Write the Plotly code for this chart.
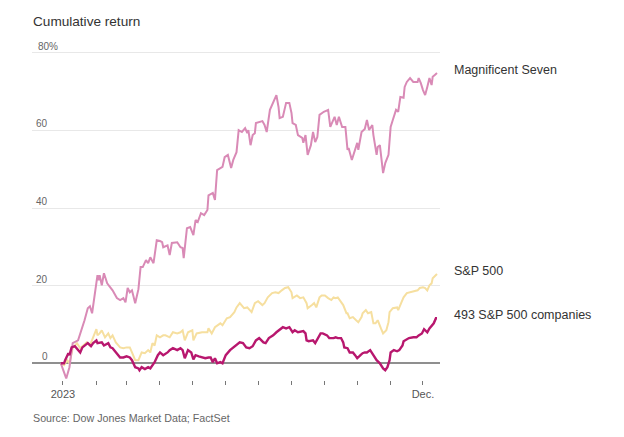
import pandas as pd
import plotly.graph_objects as go

# Day offsets from 2023-01-01 and cumulative return (%)
mag7_day = [-2, 3, 6, 9, 14, 18, 20, 23, 25, 27, 29, 32, 33, 34, 36, 38, 41, 44, 46, 50, 53, 56, 58, 60, 62, 64, 67, 70,
            72, 74, 77, 79, 81, 84, 87, 90, 92, 93, 97, 99, 101, 106, 109, 111, 112, 115, 118, 121, 123, 125, 128, 131,
            134, 135, 139, 141, 143, 148, 150, 153, 156, 158, 161, 163, 166, 169, 171, 172, 174, 176, 178, 179, 183,
            185, 187, 189, 192, 195, 198, 200, 201, 204, 205, 207, 210, 212, 213, 216, 218, 222, 223, 225, 227, 230,
            232, 234, 236, 238, 242, 246, 248, 251, 252, 254, 256, 259, 262, 264, 265, 268, 270, 273, 274, 277, 280,
            282, 284, 287, 288, 290, 291, 292, 294, 297, 299, 302, 304, 306, 309, 311, 313, 316, 317, 319, 322, 325,
            329, 330, 332, 334, 336, 338, 340, 342, 343, 345, 347]
mag7_ret = [0.0, -3.9, -1.0, 5.2, 5.9, 9.3, 11.1, 14.2, 14.7, 12.9, 17.0, 22.7, 21.4, 22.7, 20.1, 23.2, 20.6, 19.6, 18.8,
            16.8, 16.3, 16.8, 15.7, 19.4, 18.3, 18.8, 15.5, 19.1, 24.8, 24.8, 26.6, 25.8, 27.3, 25.8, 31.7, 31.5, 31.2,
            29.9, 30.4, 27.9, 31.0, 31.2, 29.9, 29.7, 27.1, 34.8, 35.1, 33.0, 36.9, 36.4, 38.7, 38.2, 39.5, 43.3, 43.9,
            42.1, 49.8, 50.6, 53.1, 53.7, 50.3, 52.4, 54.4, 60.1, 59.6, 60.6, 59.3, 60.1, 56.2, 58.8, 59.3, 61.9, 62.2,
            62.4, 61.4, 59.6, 65.3, 67.1, 69.1, 66.0, 63.2, 63.5, 64.5, 67.1, 67.1, 64.5, 61.9, 61.4, 58.8, 58.1, 56.8,
            58.8, 53.7, 56.2, 59.6, 57.0, 58.3, 64.0, 64.8, 65.3, 60.9, 63.2, 63.5, 61.4, 63.5, 60.9, 60.9, 55.0, 55.5,
            52.4, 54.2, 56.8, 55.0, 59.6, 60.4, 62.7, 60.1, 61.4, 58.8, 55.0, 53.7, 55.7, 56.2, 49.0, 51.6, 53.7, 60.9,
            62.7, 65.3, 64.8, 68.6, 68.4, 71.2, 72.5, 73.5, 72.5, 72.5, 73.5, 72.2, 70.4, 69.1, 71.2, 73.5, 71.7, 73.8,
            74.3, 74.8]

sp_day = [-2, 1, 4, 6, 9, 13, 16, 19, 22, 25, 28, 31, 32, 34, 36, 39, 42, 44, 46, 49, 53, 56, 59, 62, 64, 67, 70, 71,
          73, 76, 79, 81, 83, 85, 87, 90, 93, 95, 99, 102, 106, 109, 111, 113, 116, 120, 121, 124, 129, 134, 135, 138,
          141, 146, 148, 152, 155, 159, 161, 164, 168, 171, 175, 178, 181, 185, 187, 190, 194, 197, 200, 203, 206, 209,
          212, 213, 217, 220, 223, 226, 227, 231, 233, 235, 238, 240, 243, 246, 249, 251, 253, 255, 258, 260, 263,
          264, 266, 269, 272, 274, 277, 278, 281, 283, 286, 288, 290, 292, 295, 297, 300, 302, 303, 306, 310, 311,
          314, 316, 319, 322, 326, 329, 331, 334, 336, 338, 340, 342, 343, 346, 347]
sp_ret = [0.0, -0.5, 0.8, 0.0, 3.9, 5.2, 3.9, 4.6, 5.4, 4.6, 6.7, 8.8, 7.2, 7.7, 8.5, 6.7, 7.7, 6.5, 7.2, 5.4, 4.1, 3.9,
          4.1, 4.1, 2.8, 0.8, 0.8, 1.5, 2.8, 2.6, 3.4, 2.8, 5.2, 4.6, 7.2, 6.7, 7.2, 7.2, 6.7, 8.0, 7.7, 8.0, 8.5, 5.9,
          8.0, 8.5, 5.9, 7.7, 8.0, 8.0, 9.0, 7.7, 9.3, 10.3, 9.8, 11.6, 11.9, 13.2, 14.4, 15.5, 14.2, 14.4, 13.2, 15.5,
          16.0, 15.0, 15.5, 17.0, 18.1, 18.3, 18.1, 18.8, 19.4, 19.6, 18.3, 16.8, 17.5, 16.8, 17.0, 15.5, 14.2, 15.0,
          15.5, 14.4, 17.0, 17.5, 17.5, 16.8, 16.3, 17.0, 16.8, 17.0, 15.7, 15.0, 12.9, 12.9, 11.6, 11.9, 11.1, 10.6,
          11.9, 12.9, 13.7, 12.9, 13.2, 10.3, 10.3, 11.1, 9.0, 7.7, 8.5, 10.6, 13.2, 14.2, 14.4, 13.7, 15.7, 17.0,
          18.1, 18.3, 18.6, 18.8, 19.4, 19.6, 19.4, 18.8, 20.1, 20.6, 21.9, 22.7, 23.0]

r493_day = [-2, 1, 2, 5, 6, 8, 11, 14, 16, 18, 20, 23, 26, 28, 31, 32, 36, 38, 42, 44, 46, 50, 53, 56, 59, 62, 64, 67,
            70, 71, 73, 76, 79, 81, 83, 85, 88, 90, 93, 97, 99, 102, 106, 109, 111, 113, 116, 119, 121, 123, 126, 129,
            132, 135, 137, 139, 141, 143, 146, 148, 151, 155, 158, 161, 164, 167, 170, 173, 176, 179, 182, 186, 188,
            191, 195, 198, 200, 204, 207, 210, 213, 215, 218, 223, 225, 226, 228, 232, 234, 237, 239, 241, 245, 247,
            251, 253, 255, 258, 260, 261, 264, 266, 269, 271, 273, 276, 278, 280, 282, 285, 288, 290, 291, 294, 297,
            299, 301, 303, 304, 307, 310, 312, 315, 316, 319, 321, 325, 328, 330, 333, 335, 338, 340, 342, 344, 346,
            347]
r493_ret = [0.0, 0.0, 0.8, 2.6, 2.1, 4.1, 4.4, 3.4, 2.8, 4.1, 4.6, 5.2, 4.4, 5.2, 5.9, 5.2, 5.4, 4.6, 5.2, 4.1, 3.9, 2.6,
            1.5, 1.5, 1.8, 1.5, 0.8, -1.0, -1.3, -1.8, -1.0, -1.5, -1.0, -1.3, -0.5, 0.3, 2.1, 2.8, 2.1, 2.8, 3.4, 3.9,
            3.4, 3.9, 3.4, 1.3, 3.4, 2.8, 1.0, 2.1, 1.8, 1.5, 1.3, 1.5, 1.5, 0.3, 1.3, 0.0, 0.3, 0.0, 2.1, 3.4, 4.1,
            4.6, 5.4, 5.2, 4.1, 3.9, 4.4, 5.9, 6.5, 5.4, 5.2, 6.5, 7.2, 8.0, 8.5, 9.3, 9.0, 9.3, 8.0, 8.5, 8.0, 8.3,
            7.7, 5.9, 5.7, 5.9, 5.2, 6.5, 7.7, 7.7, 7.2, 6.5, 6.5, 6.7, 6.5, 6.5, 5.4, 4.1, 3.9, 2.8, 2.8, 2.1, 1.3,
            2.1, 2.6, 2.8, 2.8, 3.4, 2.1, 1.0, 0.8, 0.0, -1.3, -1.8, -1.0, 0.8, 2.8, 3.4, 3.1, 3.4, 4.6, 5.7, 6.2, 6.5,
            6.7, 6.7, 7.2, 7.7, 8.8, 8.0, 9.0, 9.8, 10.3, 11.6, 11.6]

y_ticks = [0, 20, 40, 60, 80]
y_tick_text = ["0", "20", "40", "60", "80%"]
month_ticks = pd.date_range("2023-01-01", "2023-12-01", freq="MS")
month_text = ["2023"] + [""] * 10 + ["Dec."]

series_names = ["Magnificent Seven", "S&P 500", "493 S&P 500 companies"]
series_colors = ["#d98ab6", "#f6df9f", "#b8176e"]
series_widths = [2, 2, 2.4]

FONT = "Liberation Sans, Arial, sans-serif"
base = pd.Timestamp("2023-01-01")


def to_dates(days):
    return base + pd.to_timedelta(days, unit="D")


fig = go.Figure()
data = [(sp_day, sp_ret), (mag7_day, mag7_ret), (r493_day, r493_ret)]
order = [1, 0, 2]
for idx, (d, r) in zip(order, data):
    fig.add_trace(go.Scatter(x=to_dates(d), y=r, mode="lines",
                             line=dict(color=series_colors[idx], width=series_widths[idx]),
                             name=series_names[idx], hoverinfo="skip"))

# the page body adds an 8px margin, so the figure is 8px smaller on each axis
fig.update_layout(
    width=616, height=429,
    margin=dict(l=24, r=184, t=32, b=57),
    paper_bgcolor="white", plot_bgcolor="white",
    showlegend=False,
    font=dict(family=FONT, color="#333"),
)
fig.update_xaxes(
    range=[pd.Timestamp("2022-12-03 06:00"), pd.Timestamp("2023-12-16 19:00")],
    tickvals=month_ticks, ticktext=month_text,
    ticks="outside", ticklen=4, tickcolor="#777", tickwidth=1,
    showgrid=False, zeroline=False, showline=False,
    tickfont=dict(size=11, color="#555"),
)
fig.update_yaxes(
    range=[-4.3, 83.3], tickvals=y_ticks, showticklabels=False,
    showgrid=True, gridcolor="#e8e8e8", gridwidth=1,
    zeroline=True, zerolinecolor="#8f8f8f", zerolinewidth=2,
    ticks="",
)

for v, t in zip(y_ticks, y_tick_text):
    if t.endswith("%"):
        fig.add_annotation(x=0, xref="paper", y=v, yref="y", text=t, showarrow=False,
                           xanchor="left", yanchor="bottom", xshift=4, yshift=-1,
                           font=dict(size=10, color="#666"))
    else:
        fig.add_annotation(x=0, xref="paper", y=v, yref="y", text=t, showarrow=False,
                           xanchor="right", yanchor="bottom", xshift=18, yshift=-1,
                           font=dict(size=10, color="#666"))

last_vals = [mag7_ret[-1], sp_ret[-1], r493_ret[-1]]
for name, v in zip(series_names, last_vals):
    fig.add_annotation(x=1, xref="paper", y=v, yref="y", text=name, showarrow=False,
                       xanchor="left", yanchor="middle", xshift=12, yshift=3,
                       font=dict(size=12.5, color="#333"))

fig.add_annotation(x=0, xref="paper", y=1, yref="paper", text="Cumulative return", showarrow=False,
                   xanchor="left", yanchor="middle", xshift=-1, yshift=19,
                   font=dict(size=13.6, color="#333"))
fig.add_annotation(x=0, xref="paper", y=0, yref="paper", text="Source: Dow Jones Market Data; FactSet",
                   showarrow=False, xanchor="left", yanchor="middle", xshift=-1, yshift=-38,
                   font=dict(size=10.7, color="#666"))

fig.write_html("out.html")
